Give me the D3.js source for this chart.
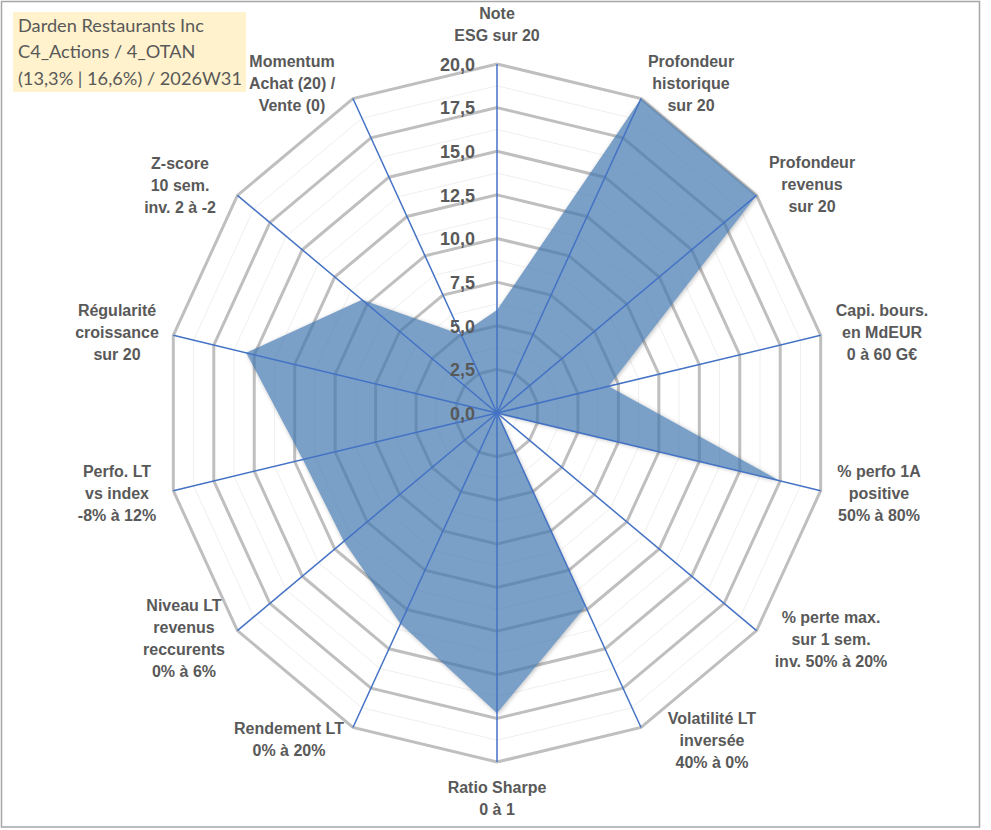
<!DOCTYPE html>
<meta charset="utf-8">
<script src="https://d3js.org/d3.v7.min.js"></script>
<style>
body { margin: 0; background: #fff; }
svg { display: block; }
.lbl { font-family: Arial, "Liberation Sans", sans-serif; font-weight: bold; font-size: 16px; fill: #595959; }
.tick { font-family: Arial, "Liberation Sans", sans-serif; font-weight: bold; font-size: 18px; fill: #595959; }
.title { font-family: Lato, "Liberation Sans", sans-serif; font-size: 18.2px; fill: #595959; }
</style>
<svg width="991" height="830"></svg>
<script>
// axis labels (one entry per spoke, clockwise from the top)
const categories = [
  ['Note', 'ESG sur 20'],
  ['Profondeur', 'historique', 'sur 20'],
  ['Profondeur', 'revenus', 'sur 20'],
  ['Capi. bours.', 'en MdEUR', '0 à 60 G€'],
  ['% perfo 1A', 'positive', '50% à 80%'],
  ['% perte max.', 'sur 1 sem.', 'inv. 50% à 20%'],
  ['Volatilité LT', 'inversée', '40% à 0%'],
  ['Ratio Sharpe', '0 à 1'],
  ['Rendement LT', '0% à 20%'],
  ['Niveau LT', 'revenus', 'reccurents', '0% à 6%'],
  ['Perfo. LT', 'vs index', '-8% à 12%'],
  ['Régularité', 'croissance', 'sur 20'],
  ['Z-score', '10 sem.', 'inv. 2 à -2'],
  ['Momentum', 'Achat (20) /', 'Vente (0)']
];

const values = [5.9, 20, 20, 6.9, 17.5, 0, 12.3, 17.2, 13.4, 11.8, 12.0, 15.5, 10.4, 5.0];

const ticks = [0, 2.5, 5, 7.5, 10, 12.5, 15, 17.5, 20];
const minorTicks = [1.25, 3.75, 6.25, 8.75, 11.25, 13.75, 16.25, 18.75];

const titleLines = ['Darden Restaurants Inc', 'C4_Actions / 4_OTAN', '(13,3% | 16,6%) / 2026W31'];

// label centres, same order as categories
const labelPos = [
  [497, 26], [691, 85], [812, 186], [882, 334], [879, 495], [831, 641], [712, 742],
  [497, 800], [289, 741], [184, 640], [117, 495], [117, 334], [180, 187], [292, 85]
];

const cx = 497, cy = 413, rx = 332, ry = 349;
const n = categories.length;

const svg = d3.select('svg');

const r = d3.scaleLinear().domain([0, 20]).range([0, 1]);
const angle = d3.scaleLinear().domain([0, n]).range([0, 2 * Math.PI]);

const pt = (v, i) => [
  cx + rx * r(v) * Math.sin(angle(i)),
  cy - ry * r(v) * Math.cos(angle(i))
];

const ring = v => d3.range(n).map(i => pt(v, i));
const line = d3.line().curve(d3.curveLinearClosed);
const seriesPath = line(values.map(pt));

// frame
svg.append('rect')
  .attr('x', 1.5).attr('y', 1.5)
  .attr('width', 978).attr('height', 825.5)
  .attr('fill', 'none')
  .attr('stroke', '#a6a6a6')
  .attr('stroke-width', 1.5);

// soft shadow, kept outside the series shape only
const defs = svg.append('defs');
defs.append('filter').attr('id', 'blur')
  .attr('x', '-10%').attr('y', '-10%').attr('width', '120%').attr('height', '120%')
  .append('feGaussianBlur').attr('stdDeviation', 2);
const mask = defs.append('mask').attr('id', 'outside');
mask.append('rect').attr('width', 991).attr('height', 830).attr('fill', '#fff');
mask.append('path').attr('d', seriesPath).attr('fill', '#000');

// grid
svg.append('g').selectAll('path')
  .data(minorTicks)
  .join('path')
  .attr('d', v => line(ring(v)))
  .attr('fill', 'none')
  .attr('stroke', '#efefef')
  .attr('stroke-width', 1);

svg.append('g').selectAll('path')
  .data(ticks.filter(t => t > 0))
  .join('path')
  .attr('d', v => line(ring(v)))
  .attr('fill', 'none')
  .attr('stroke', '#bfbfbf')
  .attr('stroke-width', 3);

// series
svg.append('g').attr('mask', 'url(#outside)')
  .append('path')
  .attr('d', seriesPath)
  .attr('transform', 'translate(1,1)')
  .attr('fill', '#000')
  .attr('fill-opacity', 0.25)
  .attr('filter', 'url(#blur)');

svg.append('path')
  .attr('d', seriesPath)
  .attr('fill', '#4277b0')
  .attr('fill-opacity', 0.7);

// spokes
svg.append('g').selectAll('line')
  .data(d3.range(n))
  .join('line')
  .attr('x1', cx).attr('y1', cy)
  .attr('x2', i => pt(20, i)[0])
  .attr('y2', i => pt(20, i)[1])
  .attr('stroke', '#4472c4')
  .attr('stroke-width', 1.5);

// value axis labels
const fr = d3.formatLocale({ decimal: ',', thousands: ' ', grouping: [3], currency: ['', '€'] });
const fmt = fr.format('.1f');

svg.append('g').selectAll('text')
  .data(ticks)
  .join('text')
  .attr('class', 'tick')
  .attr('x', cx - 22)
  .attr('y', v => cy - ry * r(v) + 2)
  .attr('text-anchor', 'end')
  .attr('dominant-baseline', 'middle')
  .text(fmt);

// category labels
const lh = 22;
svg.append('g').selectAll('text')
  .data(categories)
  .join('text')
  .attr('class', 'lbl')
  .attr('text-anchor', 'middle')
  .each(function(lines, i) {
    const [x, y] = labelPos[i];
    const y0 = y - (lines.length - 1) * lh / 2;
    d3.select(this).selectAll('tspan')
      .data(lines)
      .join('tspan')
      .attr('x', x)
      .attr('y', (d, k) => y0 + k * lh)
      .attr('dominant-baseline', 'middle')
      .text(d => d);
  });

// title box
svg.append('rect')
  .attr('x', 13).attr('y', 12)
  .attr('width', 233).attr('height', 80)
  .attr('fill', '#fff2cc');

svg.append('g').selectAll('text')
  .data(titleLines)
  .join('text')
  .attr('class', 'title')
  .attr('x', 18)
  .attr('y', (d, i) => 27 + i * 26.5)
  .attr('dominant-baseline', 'middle')
  .text(d => d);
</script>
